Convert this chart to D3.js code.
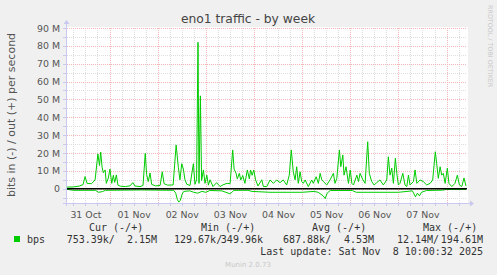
<!DOCTYPE html>
<html>
<head>
<meta charset="utf-8">
<script src="https://cdn.jsdelivr.net/npm/d3@7"></script>
<style>
	body { margin: 0; background: #f0f0f0; }
	svg { display: block; font-family: "DejaVu Sans", sans-serif; }
	.mono { font-family: "DejaVu Sans Mono", monospace; }
</style>
</head>
<body>
<svg></svg>
<script>
// values in M bits per second, time in hours after 31 Oct 00:00
const yTicks = [0, 10, 20, 30, 40, 50, 60, 70, 80, 90];
const dayLabels = ["31 Oct", "01 Nov", "02 Nov", "03 Nov", "04 Nov", "05 Nov", "06 Nov", "07 Nov"];

const outSeries = [
	[2.8, 0.9], [6, 1.0], [9, 1.5], [10.8, 2.3], [11.8, 6.8], [12.8, 3.0], [15, 2.8], [16.8, 4.9],
	[18.2, 19.5], [19, 13], [19.6, 20.5], [20.3, 12], [20.9, 9], [21.8, 10.5], [22.4, 3], [23.4, 6],
	[24.2, 11], [25.1, 3], [25.9, 7.5], [26.6, 3.5], [27.4, 7.7], [28.2, 2], [29.5, 1.4], [32, 1.2],
	[34.2, 1.6], [35.6, 3.4], [36.7, 1.5], [39.2, 1.2], [40.7, 1.8], [41.8, 19.8], [42.5, 8], [43.3, 4],
	[44.2, 8.8], [45, 2.4], [47, 1.6], [49.2, 1.8], [50.3, 9.5], [51.2, 2.8], [53, 2], [55.7, 2.1],
	[57.2, 24.5], [58.3, 12], [59.1, 5], [60.0, 14], [60.8, 11], [61.6, 5], [62.5, 2.5], [64.1, 1.8],
	[65.8, 14], [66.6, 2.5], [67.4, 5], [68.1, 82], [68.6, 3], [69.3, 52], [69.9, 4.6], [70.8, 10.5],
	[71.6, 3], [72.5, 7.6], [73.3, 2], [74.1, 5], [75.6, 1.2], [77.4, 3.4], [79.1, 1.2], [80.6, 2.2],
	[82.6, 3], [84.1, 2.8], [85.4, 21.7], [86.1, 11], [87.1, 8.6], [87.7, 5.5], [88.7, 8.6], [89.4, 4.9],
	[90.4, 7.4], [91.5, 3.0], [92.7, 10.5], [93.7, 5.5], [94.3, 10.5], [95.1, 7.5], [95.9, 10.5], [96.8, 5],
	[98, 1.5], [99.9, 5], [100.7, 1.2], [102.4, 1.2], [104.0, 4.9], [105.7, 3.0], [107.3, 4.9], [109.0, 3.4],
	[110.6, 4.9], [112.3, 2.1], [113.6, 7.6], [114.6, 21.7], [115.6, 9.5], [116.5, 5], [117.3, 12.3], [118.1, 3],
	[119, 9.5], [119.8, 4], [120.6, 3], [121.5, 4.9], [123.1, 1.2], [124.8, 4.9], [125.6, 3], [127.0, 6.7],
	[128.1, 3], [129.0, 8.6], [129.8, 5], [130.6, 4], [132.3, 2.1], [133.9, 4.9], [135.6, 8.6], [136.4, 3],
	[137.3, 5.8], [138.6, 21.7], [139.3, 12.3], [140.3, 18.9], [140.9, 7.6], [141.9, 12.3], [143.1, 3], [144.0, 10.5],
	[144.8, 3], [145.6, 2.1], [147.3, 7.6], [148.1, 4], [148.9, 8.6], [150.3, 5], [151.4, 3], [152.7, 26.3],
	[153.5, 8.6], [154.7, 4], [155.9, 2.1], [157.2, 3.4], [158.8, 4.9], [160.5, 2.1], [162.2, 4.9], [163.0, 17.9],
	[163.8, 7.6], [164.7, 11.5], [165.5, 3], [166.5, 17], [167.2, 8.6], [168.0, 2.1], [168.8, 3], [170.2, 8.6],
	[171.3, 2.1], [172.2, 1.2], [173.0, 7.6], [173.8, 2.1], [175.5, 4.0], [176.3, 10.5], [177.2, 3], [178.8, 4.9],
	[180.4, 4.0], [182.1, 2.1], [183.8, 3], [185.1, 4.9], [186.4, 20.7], [187.1, 14], [187.9, 5.8], [188.8, 12.3],
	[189.6, 7.6], [190.4, 8.6], [191.3, 3], [192.4, 11.5], [193.2, 3], [194.6, 1.2], [196.2, 3], [197.4, 7.6],
	[198.4, 2.1], [199.6, 1.2], [200.7, 6], [201.7, 1.5]
];

const inSeries = [
	[2.8, 0.3], [6, 0.9], [17, 0.9], [18.5, 2.0], [20.5, 1.6], [22, 0.9], [40, 0.7], [56, 0.9],
	[57, 2.5], [57.8, 6], [58.5, 7.5], [59.3, 6.5], [60.2, 3], [61, 1.5], [64, 1.2], [66, 2],
	[68, 2.5], [70, 1.5], [72, 2], [74, 1], [80, 1.2], [82, 2], [84, 2.8], [85, 2],
	[86, 0.9], [93, 0.9], [95, 1.5], [104, 2], [120, 2], [126, 1.5], [128, 2], [130.5, 4],
	[131.5, 5.5], [132.5, 2.5], [134, 1], [145, 1], [147, 2], [168, 2], [175, 1.2], [176.5, 4.5],
	[177.5, 2.5], [178.5, 4], [179.5, 2], [182, 1], [190, 0.8], [192, 0.4], [201.7, 0.4]
];

const legendHeads = ["Cur (-/+)", "Min (-/+)", "Avg (-/+)", "Max (-/+)"];
const legendIn = ["753.39k/", "129.67k/", "687.88k/", "12.14M/"];
const legendOut = ["2.15M", "349.96k", "4.53M", "194.61M"];

const t0 = Date.UTC(2025, 9, 31);
const hour = (h) => new Date(t0 + h * 3600e3);

const svg = d3.select("svg").attr("width", 497).attr("height", 275);

const x = d3.scaleUtc().domain([hour(2.8), hour(202.2)]).range([67, 467]);
const y = d3.scaleLinear().domain([-8, 90]).range([203, 28]);
const px = (v) => Math.round(v) + 0.5;

// plot background
svg.append("rect").attr("x", 67).attr("y", 27).attr("width", 401).attr("height", 176).attr("fill", "#fff");

const grid = svg.append("g").attr("shape-rendering", "crispEdges");
const minorY = d3.range(-5, 91, 5).filter((v) => v % 10 !== 0);
const hours6 = d3.utcHour.every(6).range(...x.domain()).filter((d) => d.getUTCHours() !== 0);
const days = d3.utcDay.range(...x.domain());
grid.selectAll(".hmin").data(minorY).join("line")
	.attr("x1", 67).attr("x2", 467)
	.attr("y1", (d) => px(y(d))).attr("y2", (d) => px(y(d)))
	.attr("stroke", "#dedede").attr("stroke-dasharray", "1,1");
grid.selectAll(".vmin").data(hours6).join("line")
	.attr("y1", 28).attr("y2", 203)
	.attr("x1", (d) => px(x(d))).attr("x2", (d) => px(x(d)))
	.attr("stroke", "#dedede").attr("stroke-dasharray", "1,1");
grid.selectAll(".hmaj").data(yTicks).join("line")
	.attr("x1", 67).attr("x2", 467)
	.attr("y1", (d) => px(y(d))).attr("y2", (d) => px(y(d)))
	.attr("stroke", "#f2b8b8").attr("stroke-dasharray", "1,1");
grid.selectAll(".vmaj").data(days).join("line")
	.attr("y1", 28).attr("y2", 203)
	.attr("x1", (d) => px(x(d))).attr("x2", (d) => px(x(d)))
	.attr("stroke", "#f2b8b8").attr("stroke-dasharray", "1,1");

// series
const line = d3.line().x((d) => x(hour(d[0]))).y((d) => y(d[1]));
svg.append("path").attr("d", line(outSeries)).attr("fill", "none").attr("stroke", "#00cc00").attr("stroke-width", 1);
svg.append("path").attr("d", line(inSeries.map((d) => [d[0], -d[1]])))
	.attr("fill", "none").attr("stroke", "#00cc00").attr("stroke-width", 1);

// zero rule
svg.append("line").attr("x1", 67).attr("x2", 467).attr("y1", y(0)).attr("y2", y(0))
	.attr("stroke", "#000").attr("stroke-width", 1.4);

// axes frame with arrows and small ticks
const axisColor = "#c8c8f0";
const frame = svg.append("g").attr("shape-rendering", "crispEdges").attr("stroke", axisColor);
frame.append("line").attr("x1", 63).attr("x2", 470).attr("y1", 203.5).attr("y2", 203.5);
frame.append("line").attr("x1", 66.5).attr("x2", 66.5).attr("y1", 206).attr("y2", 24);
frame.selectAll(".xt").data(hours6.concat(days)).join("line")
	.attr("x1", (d) => px(x(d))).attr("x2", (d) => px(x(d))).attr("y1", 203).attr("y2", 206);
frame.selectAll(".yt").data(minorY.concat(yTicks)).join("line")
	.attr("y1", (d) => px(y(d))).attr("y2", (d) => px(y(d))).attr("x1", 63).attr("x2", 67);
svg.append("path").attr("d", "M470,200.5L474,203.5L470,206.5Z").attr("fill", axisColor);
svg.append("path").attr("d", "M63.5,24L66.5,20L69.5,24Z").attr("fill", axisColor);

// tick labels
const yAxis = d3.axisLeft(y).tickValues(yTicks).tickSize(0).tickPadding(7)
	.tickFormat((d) => (d === 0 ? "0" : d + " M"));
const yg = svg.append("g").attr("transform", "translate(60,0)").call(yAxis);
const noons = dayLabels.map((_, i) => hour(i * 24 + 12));
const xAxis = d3.axisBottom(x).tickValues(noons).tickSize(0).tickPadding(8)
	.tickFormat((d, i) => dayLabels[i]);
const xg = svg.append("g").attr("transform", "translate(0,203)").call(xAxis);
[yg, xg].forEach((g) => {
	g.select(".domain").remove();
	g.selectAll("text").attr("fill", "#555").style("font-size", "9.4px").style("font-family", "DejaVu Sans");
});
yg.selectAll("text").attr("x", 0);

// titles
svg.append("text").attr("x", 248).attr("y", 23).attr("text-anchor", "middle")
	.attr("fill", "#444").style("font-size", "12.3px").text("eno1 traffic - by week");
svg.append("text").attr("transform", "translate(15,115) rotate(-90)").attr("text-anchor", "middle")
	.attr("fill", "#555").style("font-size", "11px").text("bits in (-) / out (+) per second");
svg.append("text").attr("transform", "translate(488,5) rotate(90)").attr("text-anchor", "start")
	.attr("fill", "#c8c8c8").style("font-size", "6.4px").text("RRDTOOL / TOBI OETIKER");

// legend
const headX = [89, 201, 312, 423];
const inX = [66.7, 174, 283, 397];
const outX = [157, 263, 374, 483];
const legend = svg.append("g").attr("class", "mono").style("font-size", "10px").attr("fill", "#333");
legend.selectAll(".head").data(legendHeads).join("text")
	.attr("x", (_, i) => headX[i]).attr("y", 231).text((d) => d);
legend.append("rect").attr("x", 14).attr("y", 236).attr("width", 6).attr("height", 6).attr("fill", "#00cc00");
legend.append("text").attr("x", 27).attr("y", 243).text("bps");
legend.selectAll(".vin").data(legendIn).join("text")
	.attr("x", (_, i) => inX[i]).attr("y", 243).text((d) => d);
legend.selectAll(".vout").data(legendOut).join("text")
	.attr("x", (_, i) => outX[i]).attr("y", 243).attr("text-anchor", "end").text((d) => d);
legend.append("text").attr("x", 483).attr("y", 255).attr("text-anchor", "end")
	.attr("xml:space", "preserve").text("Last update: Sat Nov  8 10:00:32 2025");
svg.append("text").attr("x", 248).attr("y", 267).attr("text-anchor", "middle")
	.attr("fill", "#c8c8c8").style("font-size", "7px").text("Munin 2.0.73");
</script>
</body>
</html>
